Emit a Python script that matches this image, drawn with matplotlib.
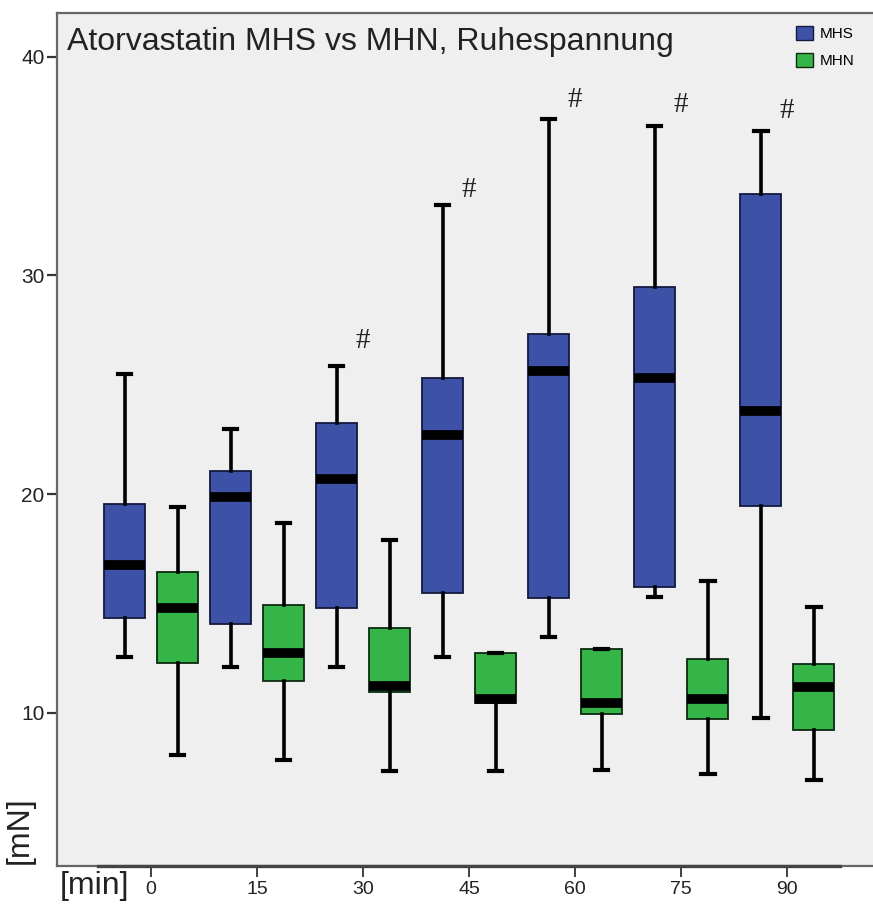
import matplotlib
matplotlib.use('Agg')
import matplotlib.pyplot as plt
from matplotlib.patches import Patch

plt.rcParams['font.family'] = ['Liberation Sans', 'DejaVu Sans']

# Time points (min)
minutes = ['0', '15', '30', '45', '60', '75', '90']

# MHS boxes: lower whisker, Q1, median, Q3, upper whisker
mhs_low = [12.57, 12.12, 12.09, 12.54, 13.47, 15.32, 9.77]
mhs_q1 = [14.34, 14.06, 14.79, 15.47, 15.24, 15.74, 19.45]
mhs_med = [16.77, 19.88, 20.68, 22.69, 25.63, 25.32, 23.81]
mhs_q3 = [19.54, 21.04, 23.27, 25.33, 27.34, 29.47, 33.71]
mhs_high = [25.48, 22.98, 25.84, 33.23, 37.15, 36.85, 36.60]

# MHN boxes
mhn_low = [8.07, 7.85, 7.35, 7.35, 7.40, 7.21, 6.94]
mhn_q1 = [12.30, 11.48, 10.95, 10.45, 9.95, 9.73, 9.22]
mhn_med = [14.80, 12.73, 11.25, 10.65, 10.45, 10.65, 11.20]
mhn_q3 = [16.44, 14.95, 13.87, 12.75, 12.92, 12.45, 12.25]
mhn_high = [19.42, 18.69, 17.90, 12.75, 12.92, 16.02, 14.84]

# significance marks (#)
hash_idx = [2, 3, 4, 5, 6]
hash_y = [27.0, 33.9, 38.0, 37.8, 37.5]

mhs_color = '#3d52a6'
mhn_color = '#35b548'


def make_stats(low, q1, med, q3, high):
    return [dict(whislo=a, q1=b, med=c, q3=d, whishi=e, fliers=[])
            for a, b, c, d, e in zip(low, q1, med, q3, high)]


fig = plt.figure(figsize=(8.73, 9.11), dpi=100)
ax = fig.add_axes([57 / 873, 45 / 911, 1 - 57 / 873, (866 - 13) / 911])
ax.set_facecolor('#efefef')

pos = list(range(len(minutes)))
groups = [
    (make_stats(mhs_low, mhs_q1, mhs_med, mhs_q3, mhs_high), -0.25, mhs_color, '#141a40'),
    (make_stats(mhn_low, mhn_q1, mhn_med, mhn_q3, mhn_high), 0.25, mhn_color, '#0d2a10'),
]
for stats, off, fc, ec in groups:
    ax.bxp(stats, positions=[p + off for p in pos], widths=0.39, patch_artist=True,
           showfliers=False, capwidths=0.13,
           boxprops=dict(facecolor=fc, edgecolor=ec, linewidth=1.3),
           medianprops=dict(color='black', linewidth=7, solid_capstyle='butt'),
           whiskerprops=dict(color='black', linewidth=2.6),
           capprops=dict(color='black', linewidth=3))

for i, y in zip(hash_idx, hash_y):
    ax.text(i, y, '#', ha='center', va='center', fontsize=21,
            family='Liberation Serif', color='#222222')

ax.set_xlim(-0.887, 6.81)
ax.set_ylim(3, 42)
ax.set_yticks([10, 20, 30, 40])
ax.set_yticklabels(['10', '20', '30', '40'], fontsize=15, color='#222222')
ax.set_xticks(pos)
ax.set_xticklabels(minutes, fontsize=14, color='#222222')
ax.tick_params(axis='y', length=7, width=1.6, color='#333333', pad=2)
ax.tick_params(axis='x', length=8, width=1.3, color='#333333', pad=3)

for side in ['left', 'top', 'bottom']:
    ax.spines[side].set_color('#666666')
    ax.spines[side].set_linewidth(1.6)
ax.spines['right'].set_visible(False)
# darker category axis line
ax.plot([-0.5, 6.5], [3, 3], color='#444444', linewidth=2.4, clip_on=False, zorder=5)

ax.text(0.012, 0.966, 'Atorvastatin MHS vs MHN, Ruhespannung', transform=ax.transAxes,
        fontsize=23, color='#222222', ha='left', va='center')

handles = [Patch(facecolor=mhs_color, edgecolor='#141a40', label='MHS'),
           Patch(facecolor=mhn_color, edgecolor='#0d2a10', label='MHN')]
fig.legend(handles=handles, loc='upper left', bbox_to_anchor=(796 / 873, 1 - 26 / 911),
           frameon=False, fontsize=11, handlelength=1.1, handleheight=1.0,
           handletextpad=0.45, labelspacing=0.8, borderaxespad=0, borderpad=0)

fig.text(20 / 873, 1 - 830 / 911, '[mN]', rotation=90, ha='center', va='center',
         fontsize=23, color='#222222')
fig.text(95 / 873, 1 - 886 / 911, '[min]', ha='center', va='center',
         fontsize=23, color='#222222')

fig.savefig('out.png', dpi=100, facecolor='white')
